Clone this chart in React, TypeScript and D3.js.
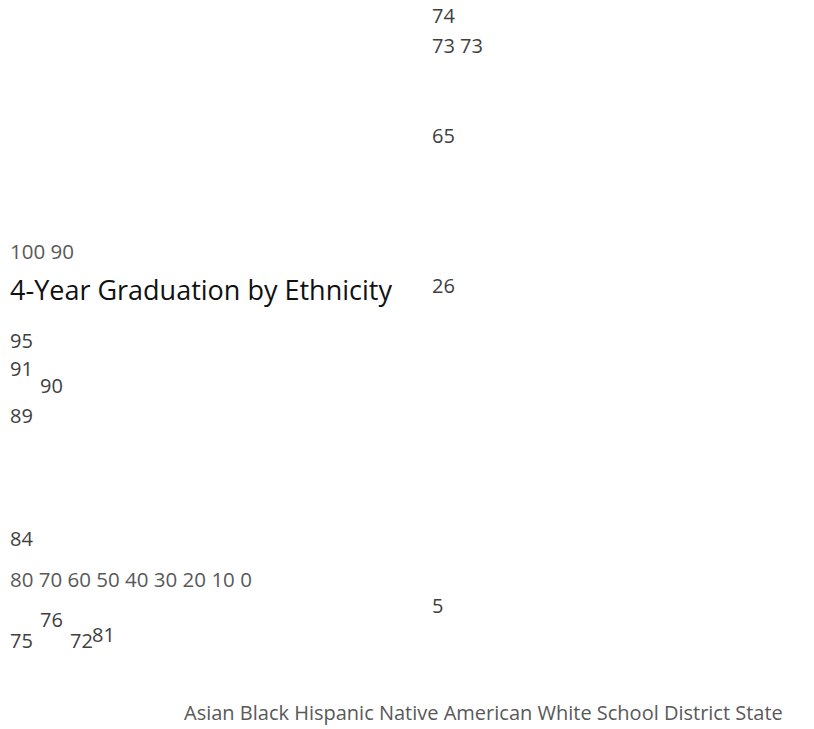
import React, { useEffect, useRef } from "react";
import * as d3 from "d3";

// ---- data ----
const title = "4-Year Graduation by Ethnicity";
const categories = ["Asian", "Black", "Hispanic", "Native American", "White"];
const seriesNames = ["School", "District", "State"];
const school = [95, 74, 76, 65, 89];
const district = [91, 73, 75, 26, 84];
const state = [90, 73, 72, 5, 81];
const yTicks = [100, 90, 80, 70, 60, 50, 40, 30, 20, 10, 0];

// ---- layout (where each label landed in the reference) ----
const valueSlots: [number, number][] = [
  // school
  [10, 348], [432, 23], [40, 627], [432, 143], [10, 423],
  // district
  [10, 376], [432, 53], [10, 648], [432, 293], [10, 546],
  // state
  [40, 393], [460, 53], [70, 648], [432, 613], [92, 642],
];
const tickLines: [number, number][] = [[10, 259], [10, 587]];
const titlePos: [number, number] = [10, 300];
const legendPos: [number, number] = [184, 720];

export default function App() {
  const ref = useRef<SVGSVGElement | null>(null);
  useEffect(() => {
    const svg = d3.select(ref.current);
    svg.selectAll("*").remove();
    const font = "'Open Sans', 'Noto Sans', sans-serif";
    const all = [school, district, state].flat();
    const numberColor = "#404040";

    svg
      .append("g")
      .selectAll("text")
      .data(all)
      .join("text")
      .attr("x", (_, i) => valueSlots[i][0])
      .attr("y", (_, i) => valueSlots[i][1])
      .attr("font-family", font)
      .attr("font-size", 20)
      .attr("fill", numberColor)
      .text((d) => String(d));

    const tickGroups = [yTicks.slice(0, 2), yTicks.slice(2)];
    svg
      .append("g")
      .selectAll("text")
      .data(tickGroups)
      .join("text")
      .attr("x", (_, i) => tickLines[i][0])
      .attr("y", (_, i) => tickLines[i][1])
      .attr("font-family", font)
      .attr("font-size", 20.5)
      .attr("fill", "#595959")
      .text((d) => d.join(" "));

    svg
      .append("text")
      .attr("x", titlePos[0])
      .attr("y", titlePos[1])
      .attr("font-family", font)
      .attr("font-size", 27)
      .attr("fill", "#111")
      .text(title);

    svg
      .append("text")
      .attr("x", legendPos[0])
      .attr("y", legendPos[1])
      .attr("font-family", font)
      .attr("font-size", 20)
      .attr("fill", "#595959")
      .text([...categories, ...seriesNames].join(" "));
  }, []);

  return (
    <svg
      ref={ref}
      width={814}
      height={729}
      style={{ position: "absolute", left: 0, top: 0, background: "#fff" }}
    />
  );
}
